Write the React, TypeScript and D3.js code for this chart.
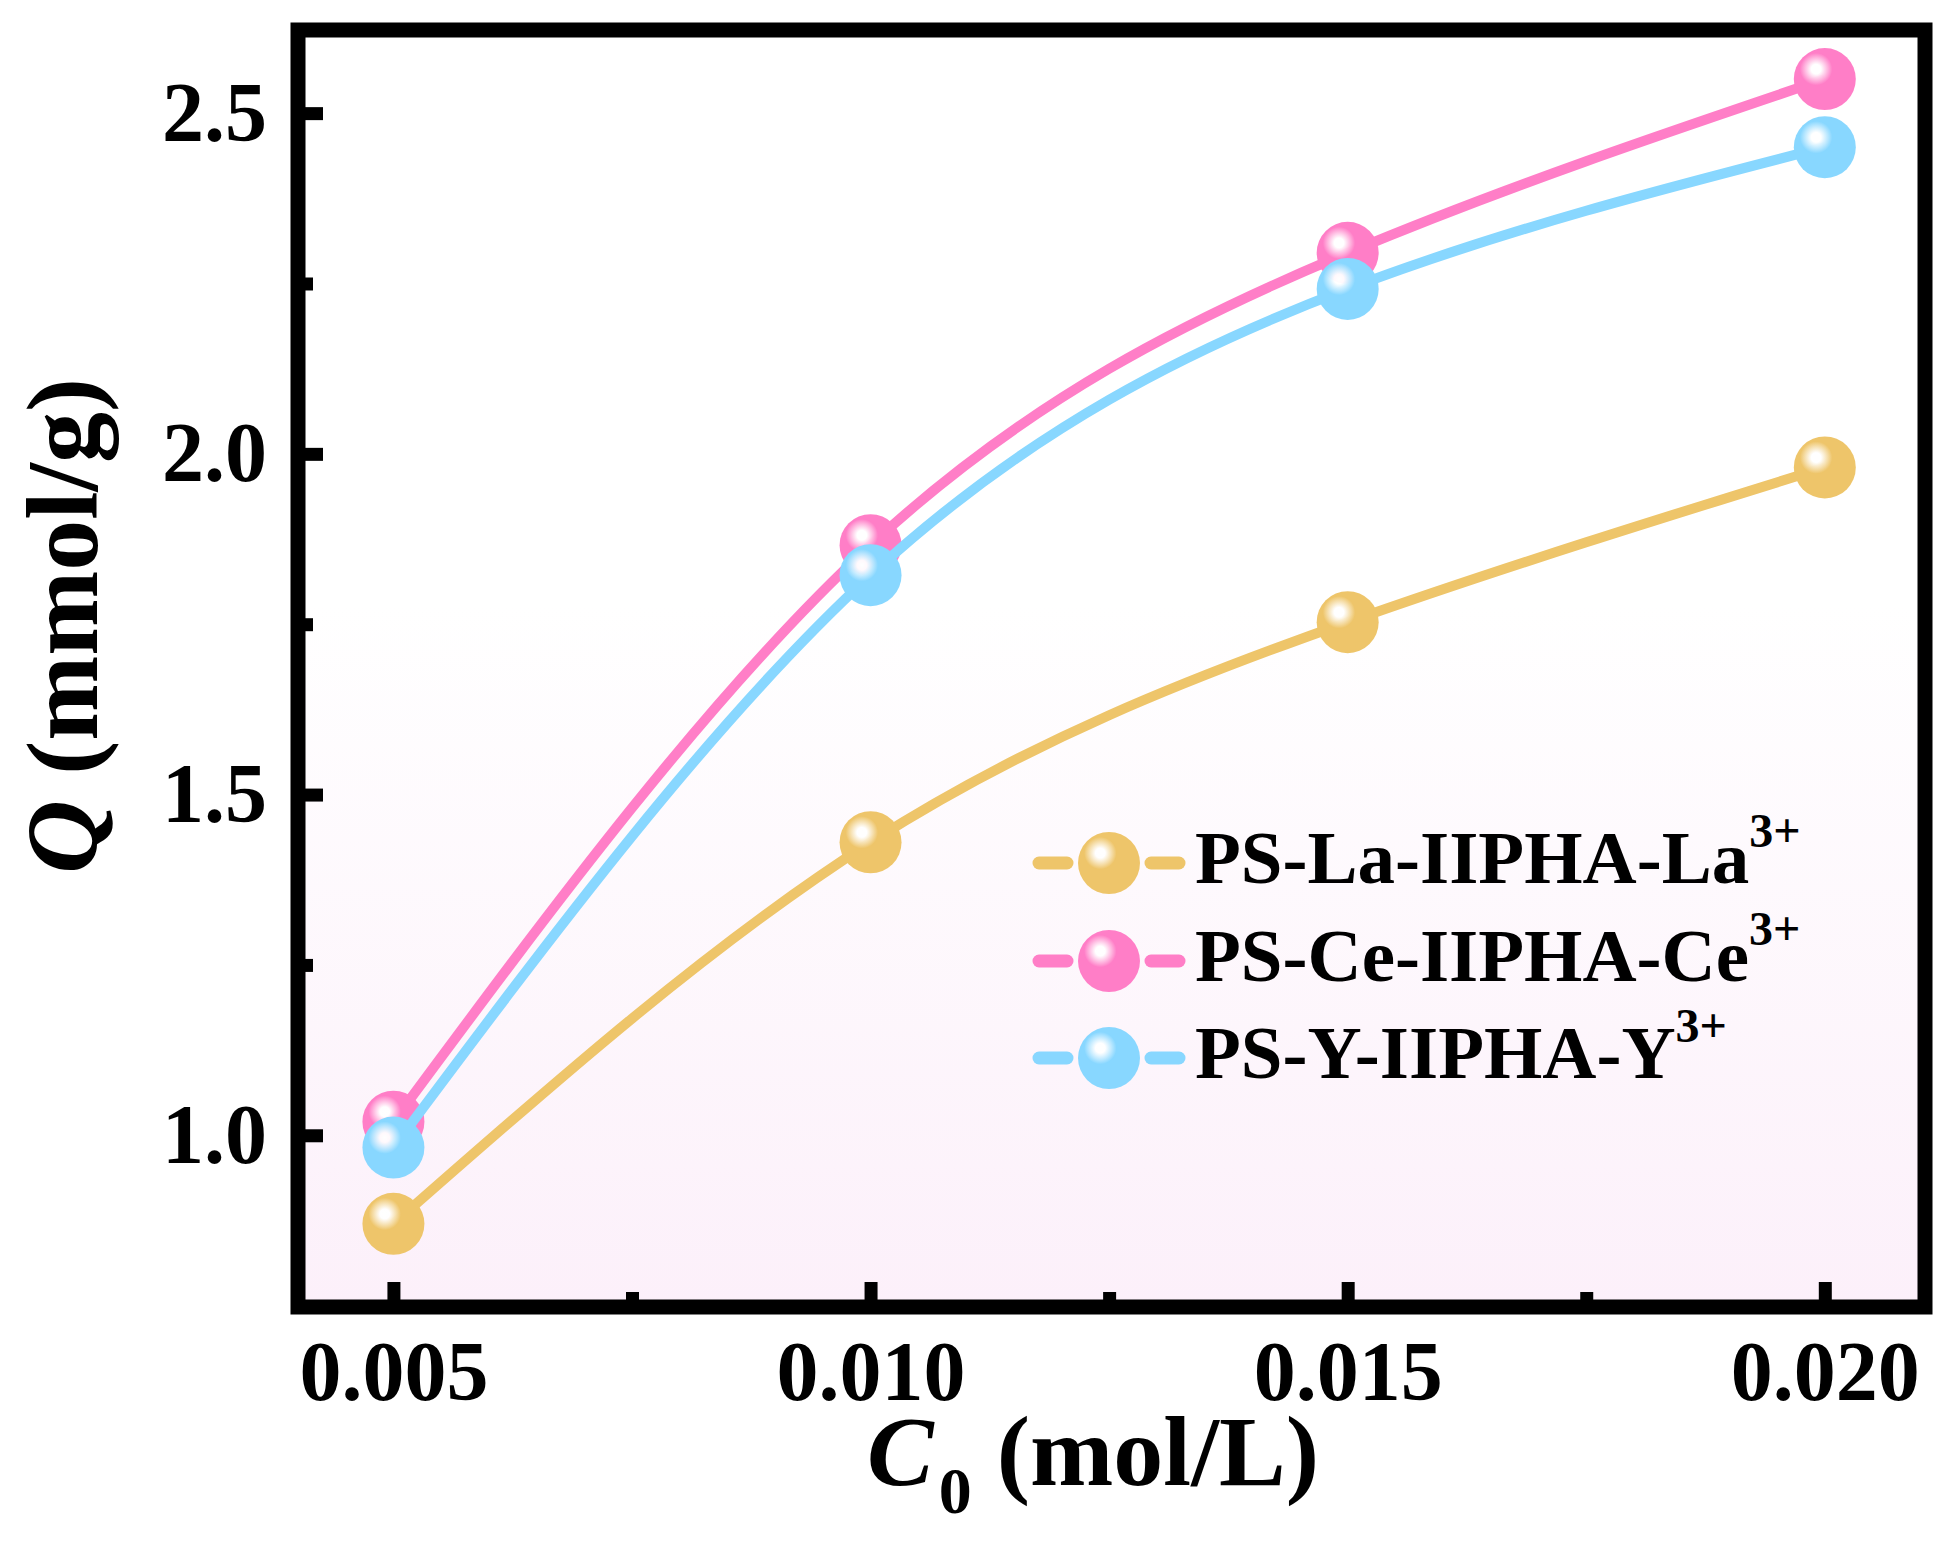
import React, { useEffect, useRef } from 'react';
import * as d3 from 'd3';

// C0 (mol/L)
const concentrations = [0.005, 0.01, 0.015, 0.02];
// Q (mmol/g) per adsorbent
const laValues = [0.87, 1.43, 1.753, 1.98];
const ceValues = [1.02, 1.866, 2.295, 2.55];
const yValues = [0.982, 1.822, 2.242, 2.45];

const seriesNames = ['PS-La-IIPHA-La', 'PS-Ce-IIPHA-Ce', 'PS-Y-IIPHA-Y'];
const seriesCharges = ['3+', '3+', '3+'];
const seriesColors = ['#EEC56A', '#FF7EC7', '#88D7FF'];

const xTicks = [0.005, 0.01, 0.015, 0.02];
const xTickLabels = ['0.005', '0.010', '0.015', '0.020'];
const xMinorTicks = [0.0075, 0.0125, 0.0175];
const yTicks = [1.0, 1.5, 2.0, 2.5];
const yTickLabels = ['1.0', '1.5', '2.0', '2.5'];
const yMinorTicks = [1.25, 1.75, 2.25];

const W = 1951;
const H = 1541;
const FONT = "'Liberation Serif', 'Times New Roman', serif";

export default () => {
  const svgRef = useRef<SVGSVGElement>(null);

  function draw(elm: SVGSVGElement) {
    const svg = d3.select(elm);
    svg.selectAll('*').remove();

    const left = 298, right = 1925, top = 30, bottom = 1307;

    const x = d3.scaleLinear().domain([0.004, 0.02105]).range([left, right]);
    const y = d3.scaleLinear().domain([0.748, 2.622]).range([bottom, top]);

    const defs = svg.append('defs');
    const bg = defs.append('linearGradient')
      .attr('id', 'bgGrad')
      .attr('x1', 0).attr('y1', 0).attr('x2', 0).attr('y2', 1);
    bg.append('stop').attr('offset', '0').attr('stop-color', '#ffffff');
    bg.append('stop').attr('offset', '0.45').attr('stop-color', '#ffffff');
    bg.append('stop').attr('offset', '1').attr('stop-color', '#fcf0fa');

    seriesColors.forEach((c, i) => {
      const g = defs.append('radialGradient')
        .attr('id', 'ball' + i)
        .attr('cx', 0.36).attr('cy', 0.34).attr('r', 0.26);
      g.append('stop').attr('offset', '0').attr('stop-color', '#ffffff');
      g.append('stop').attr('offset', '0.3').attr('stop-color', '#ffffff').attr('stop-opacity', 0.95);
      g.append('stop').attr('offset', '1').attr('stop-color', c);
    });

    svg.append('rect')
      .attr('x', left).attr('y', top)
      .attr('width', right - left).attr('height', bottom - top)
      .attr('fill', 'url(#bgGrad)');

    const allSeries = [laValues, ceValues, yValues];
    const line = d3.line<number>()
      .x((d, i) => x(concentrations[i]))
      .y(d => y(d))
      .curve(d3.curveNatural);

    allSeries.forEach((vals, i) => {
      svg.append('path')
        .attr('d', line(vals))
        .attr('fill', 'none')
        .attr('stroke', seriesColors[i])
        .attr('stroke-width', 10);

      svg.append('g')
        .selectAll('circle')
        .data(vals)
        .enter()
        .append('circle')
        .attr('cx', (d, j) => x(concentrations[j]))
        .attr('cy', d => y(d))
        .attr('r', 31)
        .attr('fill', 'url(#ball' + i + ')');
    });

    // axes (ticks inward)
    const xAxis = svg.append('g')
      .attr('transform', 'translate(0,' + bottom + ')')
      .call(d3.axisBottom(x).tickValues(xTicks).tickSize(-25)
        .tickFormat((d, i) => xTickLabels[i]));
    xAxis.selectAll('line').attr('stroke', '#000').attr('stroke-width', 13);
    xAxis.selectAll('text')
      .attr('y', 93).attr('dy', null)
      .attr('font-family', FONT).attr('font-weight', 'bold')
      .attr('font-size', 84).attr('fill', '#000');

    const xMinor = svg.append('g')
      .attr('transform', 'translate(0,' + bottom + ')')
      .call(d3.axisBottom(x).tickValues(xMinorTicks).tickSize(-15).tickFormat(() => ''));
    xMinor.selectAll('line').attr('stroke', '#000').attr('stroke-width', 13);

    const yAxis = svg.append('g')
      .attr('transform', 'translate(' + left + ',0)')
      .call(d3.axisLeft(y).tickValues(yTicks).tickSize(-25)
        .tickFormat((d, i) => yTickLabels[i]));
    yAxis.selectAll('line').attr('stroke', '#000').attr('stroke-width', 13);
    yAxis.selectAll('text')
      .attr('x', -31).attr('dy', 27)
      .attr('font-family', FONT).attr('font-weight', 'bold')
      .attr('font-size', 84).attr('fill', '#000');

    const yMinor = svg.append('g')
      .attr('transform', 'translate(' + left + ',0)')
      .call(d3.axisLeft(y).tickValues(yMinorTicks).tickSize(-15).tickFormat(() => ''));
    yMinor.selectAll('line').attr('stroke', '#000').attr('stroke-width', 13);

    svg.selectAll('.domain').remove();

    // frame
    svg.append('rect')
      .attr('x', left).attr('y', top)
      .attr('width', right - left).attr('height', bottom - top)
      .attr('fill', 'none')
      .attr('stroke', '#000')
      .attr('stroke-width', 15);

    // axis titles
    const xTitle = svg.append('text')
      .attr('x', 1093).attr('y', 1485)
      .attr('text-anchor', 'middle')
      .attr('font-family', FONT).attr('font-weight', 'bold')
      .attr('font-size', 100);
    xTitle.append('tspan').attr('font-style', 'italic').text('C');
    xTitle.append('tspan').attr('dx', 5).attr('dy', 28).attr('font-size', 66).text('0');
    xTitle.append('tspan').attr('dy', -28).text(' (mol/L)');

    const yTitle = svg.append('text')
      .attr('transform', 'translate(97,626) rotate(-90)')
      .attr('text-anchor', 'middle')
      .attr('font-family', FONT).attr('font-weight', 'bold')
      .attr('font-size', 102);
    yTitle.append('tspan').attr('font-style', 'italic').text('Q');
    yTitle.append('tspan').text(' (mmol/g)');

    // legend
    const legendX = 1109;
    const legendRows = [863, 961, 1058];
    seriesNames.forEach((name, i) => {
      const cy = legendRows[i];
      const g = svg.append('g');
      [[-70, -42], [42, 70]].forEach(([a, b]) => {
        g.append('line')
          .attr('x1', legendX + a).attr('x2', legendX + b)
          .attr('y1', cy).attr('y2', cy)
          .attr('stroke', seriesColors[i])
          .attr('stroke-width', 13)
          .attr('stroke-linecap', 'round');
      });
      g.append('circle')
        .attr('cx', legendX).attr('cy', cy).attr('r', 31)
        .attr('fill', 'url(#ball' + i + ')');
      const t = g.append('text')
        .attr('x', 1195).attr('y', cy + 20)
        .attr('font-family', FONT).attr('font-weight', 'bold')
        .attr('font-size', 75).attr('fill', '#000');
      t.append('tspan').text(name);
      t.append('tspan').attr('dy', -36).attr('font-size', 48).text(seriesCharges[i]);
    });
  }

  useEffect(() => {
    if (svgRef.current) {
      draw(svgRef.current);
    }
  }, []);

  return (
    <svg
      ref={svgRef}
      width={W}
      height={H}
      style={{ position: 'absolute', left: 0, top: 0, background: '#fff' }}
    />
  );
};
